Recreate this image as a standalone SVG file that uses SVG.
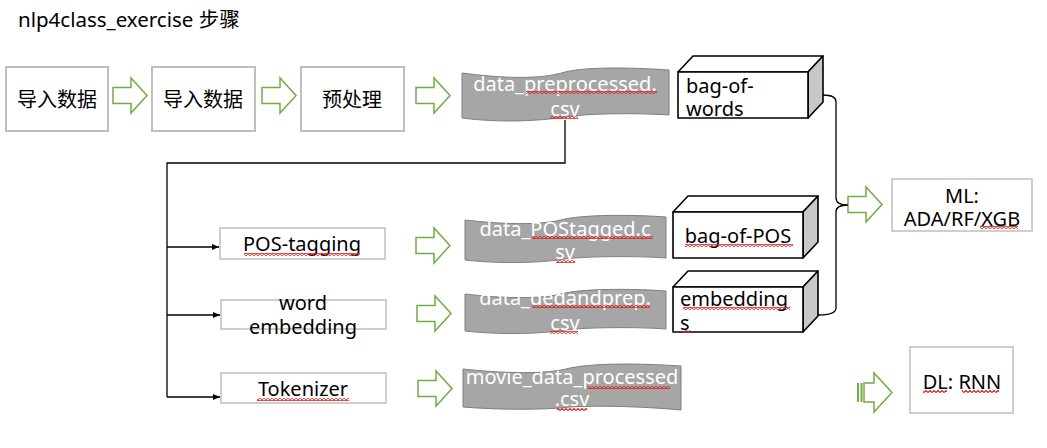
<svg xmlns="http://www.w3.org/2000/svg" width="1047" height="448" viewBox="0 0 1047 448">
<style>
text{font-family:"Noto Sans","Noto Sans CJK SC",sans-serif;font-size:20px;fill:#000}
.box{fill:#fff;stroke:#bfbfbf;stroke-width:2}
.box2{fill:#fff;stroke:#bfbfbf;stroke-width:1.5}
.ga{fill:#fff;stroke:#70ad47;stroke-width:1.5;stroke-linejoin:miter}
.wave{fill:#a6a6a6;stroke:#7f7f7f;stroke-width:1}
.wt{fill:#fff;text-anchor:middle}
.c{text-anchor:middle}
.cf{fill:#fff;stroke:#000;stroke-width:1.6;stroke-linejoin:round}
.cs{fill:#c8c8c8;stroke:#000;stroke-width:1.6;stroke-linejoin:round}
.ln{fill:none;stroke:#000;stroke-width:1.3}
.sq{fill:url(#sq)}
</style>
<defs>
<pattern id="sq" patternUnits="userSpaceOnUse" width="4" height="3">
<path d="M0,2.5 L2,0.5 L4,2.5" fill="none" stroke="#e0201c" stroke-width="1.2"/>
</pattern>
<path id="garrow" d="M0,9.5 H18 V0 L34,17.5 L18,35 V25.5 H0 Z"/>
<marker id="ah" markerWidth="8" markerHeight="8" refX="7" refY="4" orient="auto" markerUnits="userSpaceOnUse">
<path d="M0,1 L7,4 L0,7 Z" fill="#000"/>
</marker>
</defs>
<rect width="1047" height="448" fill="#fff"/>
<text x="18" y="27" style="font-size:20.5px">nlp4class_exercise 步骤</text>

<g id="import1"><rect class="box" x="6" y="67" width="102" height="64"/><text class="c" x="57" y="107">导入数据</text></g>
<g id="import2"><rect class="box" x="152" y="67" width="103" height="64"/><text class="c" x="203" y="107">导入数据</text></g>
<g id="preprocess"><rect class="box" x="301" y="67" width="103" height="64"/><text class="c" x="352" y="107">预处理</text></g>

<g id="arrows-green">
<use href="#garrow" class="ga" x="113" y="78"/>
<use href="#garrow" class="ga" x="262" y="78"/>
<use href="#garrow" class="ga" x="416" y="78"/>
<use href="#garrow" class="ga" x="416" y="228"/>
<use href="#garrow" class="ga" x="417" y="296"/>
<use href="#garrow" class="ga" x="418" y="371"/>
<use href="#garrow" class="ga" x="848" y="187"/>
</g>
<g id="dl-arrow">
<path class="ga" d="M864,383 H874 V373 L892,392.5 L874,412 V402 H864 Z"/>
<rect x="857" y="383" width="2" height="19" fill="#70ad47"/>
<rect x="860.5" y="383" width="2" height="19" fill="#70ad47"/>
</g>

<g id="wave-preprocessed">
<path class="wave" d="M462,73 C500,78 540,80 565,72 C590,66 640,68 669,70 L669,115 C640,113 590,113 565,117 C540,121 500,123 462,118 Z"/>
<text class="wt" x="565" y="91">data_preprocessed.</text>
<text class="wt" x="565" y="116">csv</text>
<rect class="sq" x="526" y="91" width="131" height="3"/>
<rect class="sq" x="550" y="116" width="28" height="3"/>
</g>

<g id="cube-bow">
<polygon class="cf" points="678,72 693,56 823,56 808,72"/>
<polygon class="cs" points="808,72 823,56 823,102 808,118"/>
<rect class="cf" x="678" y="72" width="130" height="46"/>
<text x="686" y="93">bag-of-</text>
<text x="686" y="116">words</text>
</g>

<g id="cube-bop">
<polygon class="cf" points="673,212 688,196 818,196 803,212"/>
<polygon class="cs" points="803,212 818,196 818,242 803,258"/>
<rect class="cf" x="673" y="212" width="130" height="46"/>
<text class="c" x="738" y="243">bag-of-POS</text>
<rect class="sq" x="685" y="244" width="108" height="3"/>
</g>

<g id="cube-emb">
<polygon class="cf" points="673,287 688,271 818,271 803,287"/>
<polygon class="cs" points="803,287 818,271 818,316 803,332"/>
<rect class="cf" x="673" y="287" width="130" height="45"/>
<text x="680" y="306">embedding</text>
<text x="680" y="330">s</text>
<rect class="sq" x="683" y="307" width="107" height="3"/>
<rect class="sq" x="683" y="330" width="7" height="3"/>
</g>

<g id="ml">
<rect class="box2" x="892" y="179" width="140" height="52"/>
<text class="c" x="962" y="203">ML:</text>
<text class="c" x="962" y="226">ADA/RF/XGB</text>
<rect class="sq" x="980" y="226" width="38" height="3"/>
</g>

<g id="pos-tagging">
<rect class="box2" x="220" y="228" width="165" height="31"/>
<text class="c" x="302" y="251">POS-tagging</text>
<rect class="sq" x="244" y="253" width="116" height="3"/>
</g>
<g id="word-embedding">
<rect class="box2" x="221" y="300" width="165" height="29"/>
<text class="c" x="303" y="310">word</text>
<text class="c" x="303" y="334">embedding</text>
</g>
<g id="tokenizer">
<rect class="box2" x="221" y="373" width="165" height="30"/>
<text class="c" x="303" y="396">Tokenizer</text>
<rect class="sq" x="257" y="398" width="92" height="3"/>
</g>

<g id="wave-postagged">
<path class="wave" d="M465,220 C500,224 540,226 565,219 C590,214 640,215 666,217 L666,258 C640,256 590,256 565,259 C540,263 500,264 465,260 Z"/>
<text class="wt" x="565" y="236">data_POStagged.c</text>
<text class="wt" x="565" y="259">sv</text>
<rect class="sq" x="532" y="236" width="121" height="3"/>
<rect class="sq" x="556" y="260" width="19" height="3"/>
</g>

<g id="wave-dedandprep">
<path class="wave" d="M465,294 C500,298 540,300 565,293 C590,288 640,289 666,291 L666,329 C640,327 590,327 565,330 C540,334 500,335 465,331 Z"/>
<text class="wt" x="565" y="305">data_dedandprep.</text>
<text class="wt" x="565" y="330">csv</text>
<rect class="sq" x="532" y="305" width="118" height="3"/>
<rect class="sq" x="550" y="331" width="28" height="3"/>
</g>

<g id="wave-movie">
<path class="wave" d="M463,369 C500,373 545,375 570,368 C600,362 650,364 681,366 L681,410 C650,407 600,405 570,407 C545,410 500,410 463,407 Z"/>
<text class="wt" x="572" y="384">movie_data_processed</text>
<text class="wt" x="572" y="406">.csv</text>
<rect class="sq" x="587" y="386" width="83" height="3"/>
<rect class="sq" x="557" y="408" width="30" height="3"/>
</g>

<g id="dl">
<rect class="box2" x="910" y="347" width="103" height="66"/>
<text class="c" x="962" y="389">DL: RNN</text>
<rect class="sq" x="923" y="390" width="24" height="3"/>
<rect class="sq" x="962" y="390" width="37" height="3"/>
</g>

<g id="connectors">
<path class="ln" d="M565,120 V163 H167 V397"/>
<path class="ln" d="M167,247 H219" marker-end="url(#ah)"/>
<path class="ln" d="M167,315 H220" marker-end="url(#ah)"/>
<path class="ln" d="M167,397 H220" marker-end="url(#ah)"/>
<path class="ln" d="M823,95 Q836,95 836,102 V198 Q836,205 848,205 Q836,205 836,212 V308 Q836,315 818,315"/>
</g>
</svg>
